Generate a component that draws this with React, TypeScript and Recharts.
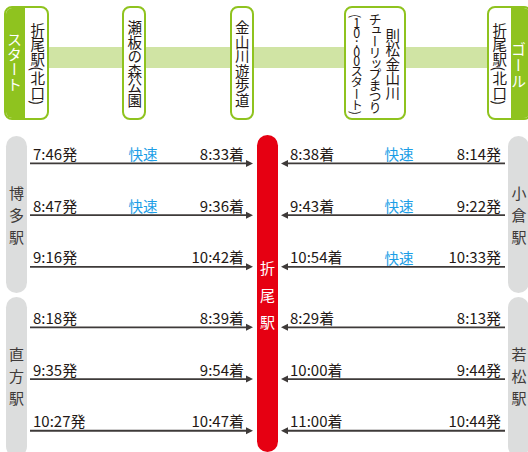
import React from 'react';
import { ComposedChart, Bar, XAxis, YAxis } from 'recharts';

// route of the walk (top strip)
const routeStops = ['折尾駅(北口)', '瀬板の森公園', '金山川遊歩道', '則松金山川', '折尾駅(北口)'];
const festivalLines = ['チューリップまつり', '(10:00スタート)'];
const startLabel = 'スタート';
const goalLabel = 'ゴール';

// stations
const hubStation = '折尾駅';
const leftStations = ['博多駅', '直方駅'];
const rightStations = ['小倉駅', '若松駅'];

// trains, 3 per station, top to bottom
const leftDepart = ['7:46', '8:47', '9:16', '8:18', '9:35', '10:27'];
const leftArrive = ['8:33', '9:36', '10:42', '8:39', '9:54', '10:47'];
const leftRapid = [true, true, false, false, false, false];
const rightArrive = ['8:38', '9:43', '10:54', '8:29', '10:00', '11:00'];
const rightDepart = ['8:14', '9:22', '10:33', '8:13', '9:44', '10:44'];
const rightRapid = [true, true, true, false, false, false];

const W = 528;
const H = 452;
const FONT = '"Noto Sans CJK JP", "Noto Sans", sans-serif';
const GREEN = '#8fc31f';
const INK = '#231815';
const LINE = '#3e3a39';
const BLUE = '#1c9ee6';
const GREY = '#dcdddd';
const RED = '#e60012';

const GROUP_GAP = 0.17;
const LEFT_SPAN = [30, 253];
const RIGHT_SPAN = [281, 505];
const Y_DOMAIN = [-3.159, 5.584];

const rows = leftDepart.map((dep, i) => ({
  slot: i + Math.floor(i / 3) * GROUP_GAP,
  leftSpan: LEFT_SPAN,
  rightSpan: RIGHT_SPAN,
  leftDepart: dep,
  leftArrive: leftArrive[i],
  leftRapid: leftRapid[i],
  rightArrive: rightArrive[i],
  rightDepart: rightDepart[i],
  rightRapid: rightRapid[i],
}));

const txt = { fontFamily: FONT, fontSize: 15, fill: INK } as const;

const LeftArrow = (props: any) => {
  const { x, y, width, height, payload } = props;
  const cy = y + height / 2;
  const x1 = x + width;
  return (
    <g>
      <line x1={x} x2={x1 - 6} y1={cy} y2={cy} stroke={LINE} strokeWidth={1.8} />
      <path d={`M${x1},${cy} L${x1 - 7},${cy - 3.5} L${x1 - 7},${cy + 3.5} Z`} fill={LINE} />
      <text x={x + 3} y={cy - 3.5} {...txt}>{payload.leftDepart}発</text>
      <text x={x1 - 9} y={cy - 3.5} textAnchor="end" {...txt}>{payload.leftArrive}着</text>
      {payload.leftRapid && (
        <text x={x + 113} y={cy - 3} textAnchor="middle" {...txt} fontSize={14.5} fill={BLUE}>快速</text>
      )}
    </g>
  );
};

const RightArrow = (props: any) => {
  const { x, y, width, height, payload } = props;
  const cy = y + height / 2;
  const x1 = x + width;
  return (
    <g>
      <line x1={x + 6} x2={x1} y1={cy} y2={cy} stroke={LINE} strokeWidth={1.8} />
      <path d={`M${x},${cy} L${x + 7},${cy - 3.5} L${x + 7},${cy + 3.5} Z`} fill={LINE} />
      <text x={x + 9} y={cy - 3.5} {...txt}>{payload.rightArrive}着</text>
      <text x={x1 - 4} y={cy - 3.5} textAnchor="end" {...txt}>{payload.rightDepart}発</text>
      {payload.rightRapid && (
        <text x={x + 118} y={cy - 3} textAnchor="middle" {...txt} fontSize={14.5} fill={BLUE}>快速</text>
      )}
    </g>
  );
};

// vertical label placed by its centre
const VLabel = ({ cx, cy, text, size = 14.5, spacing = 0, color = INK }: any) => {
  const parts = String(text).split(/([0-9:]+)/);
  return (
    <div
      style={{
        position: 'absolute',
        left: cx,
        top: cy + spacing / 2,
        transform: 'translate(-50%, -50%)',
        writingMode: 'vertical-rl',
        fontFamily: FONT,
        fontSize: size,
        letterSpacing: spacing,
        lineHeight: 1,
        color,
        whiteSpace: 'nowrap',
      }}
    >
      {parts.map((p, i) =>
        /^[0-9:]+$/.test(p) ? (
          <span key={i} style={{ textOrientation: 'upright', letterSpacing: -3 }}>{p}</span>
        ) : (
          <span key={i}>{p}</span>
        )
      )}
    </div>
  );
};

const box = (left: number, width: number): React.CSSProperties => ({
  position: 'absolute',
  left,
  top: 6,
  width,
  height: 114,
  border: `2px solid ${GREEN}`,
  borderRadius: 8,
  background: '#fff',
  boxSizing: 'border-box',
  overflow: 'hidden',
});

const pill = (left: number, top: number, height: number, color: string): React.CSSProperties => ({
  position: 'absolute',
  left,
  top,
  width: 21,
  height,
  borderRadius: 10.5,
  background: color,
});

export default function App() {
  return (
    <div style={{ position: 'relative', width: W, height: H, overflow: 'hidden', background: '#fff' }}>
      <style>{'body{margin:0}'}</style>

      {/* route strip */}
      <div style={{ position: 'absolute', left: 40, top: 47, width: 460, height: 21, background: '#d0e4a4' }} />
      <div style={box(4, 45)}>
        <div style={{ position: 'absolute', left: -2, top: -2, width: 21, height: 114, background: GREEN }} />
      </div>
      <div style={box(122, 24)} />
      <div style={box(230, 24)} />
      <div style={box(344, 62)} />
      <div style={box(487, 45)}>
        <div style={{ position: 'absolute', left: 22, top: -2, width: 30, height: 114, background: GREEN }} />
      </div>
      <VLabel cx={14.5} cy={62} text={startLabel} size={15} color="#fff" />
      <VLabel cx={37} cy={63.5} text={routeStops[0]} />
      <VLabel cx={134} cy={63.5} text={routeStops[1]} />
      <VLabel cx={241.5} cy={63.5} text={routeStops[2]} />
      <VLabel cx={392} cy={64} text={routeStops[3]} />
      <VLabel cx={375} cy={63} text={festivalLines[0]} size={13} spacing={-2} />
      <VLabel cx={356} cy={64.5} text={festivalLines[1]} size={12.5} spacing={-1} />
      <VLabel cx={499} cy={63.5} text={routeStops[4]} />
      <VLabel cx={518.5} cy={65} text={goalLabel} size={15} spacing={1} color="#fff" />

      {/* stations */}
      <div style={pill(6, 136, 157, GREY)} />
      <div style={pill(6, 297, 160, GREY)} />
      <div style={pill(508, 136, 157, GREY)} />
      <div style={pill(508, 297, 160, GREY)} />
      <div style={pill(257, 135, 317, RED)} />
      <VLabel cx={16.5} cy={215} text={leftStations[0]} size={15} spacing={7} color={LINE} />
      <VLabel cx={16.5} cy={376} text={leftStations[1]} size={15} spacing={7} color={LINE} />
      <VLabel cx={519} cy={215} text={rightStations[0]} size={15} spacing={7} color={LINE} />
      <VLabel cx={519} cy={376} text={rightStations[1]} size={15} spacing={7} color={LINE} />
      <VLabel cx={267.5} cy={295} text={hubStation} size={15} spacing={12} color="#fff" />

      {/* timetable arrows */}
      <div style={{ position: 'absolute', left: 0, top: 0 }}>
        <ComposedChart
          width={W}
          height={H}
          data={rows}
          layout="vertical"
          margin={{ top: 0, right: 0, bottom: 0, left: 0 }}
        >
          <XAxis type="number" domain={[0, W]} allowDataOverflow hide />
          <YAxis yAxisId="l" type="number" dataKey="slot" domain={Y_DOMAIN} allowDataOverflow hide />
          <YAxis yAxisId="r" type="number" dataKey="slot" domain={Y_DOMAIN} allowDataOverflow hide />
          <Bar yAxisId="l" dataKey="leftSpan" barSize={20} shape={LeftArrow} isAnimationActive={false} />
          <Bar yAxisId="r" dataKey="rightSpan" barSize={20} shape={RightArrow} isAnimationActive={false} />
        </ComposedChart>
      </div>
    </div>
  );
}
